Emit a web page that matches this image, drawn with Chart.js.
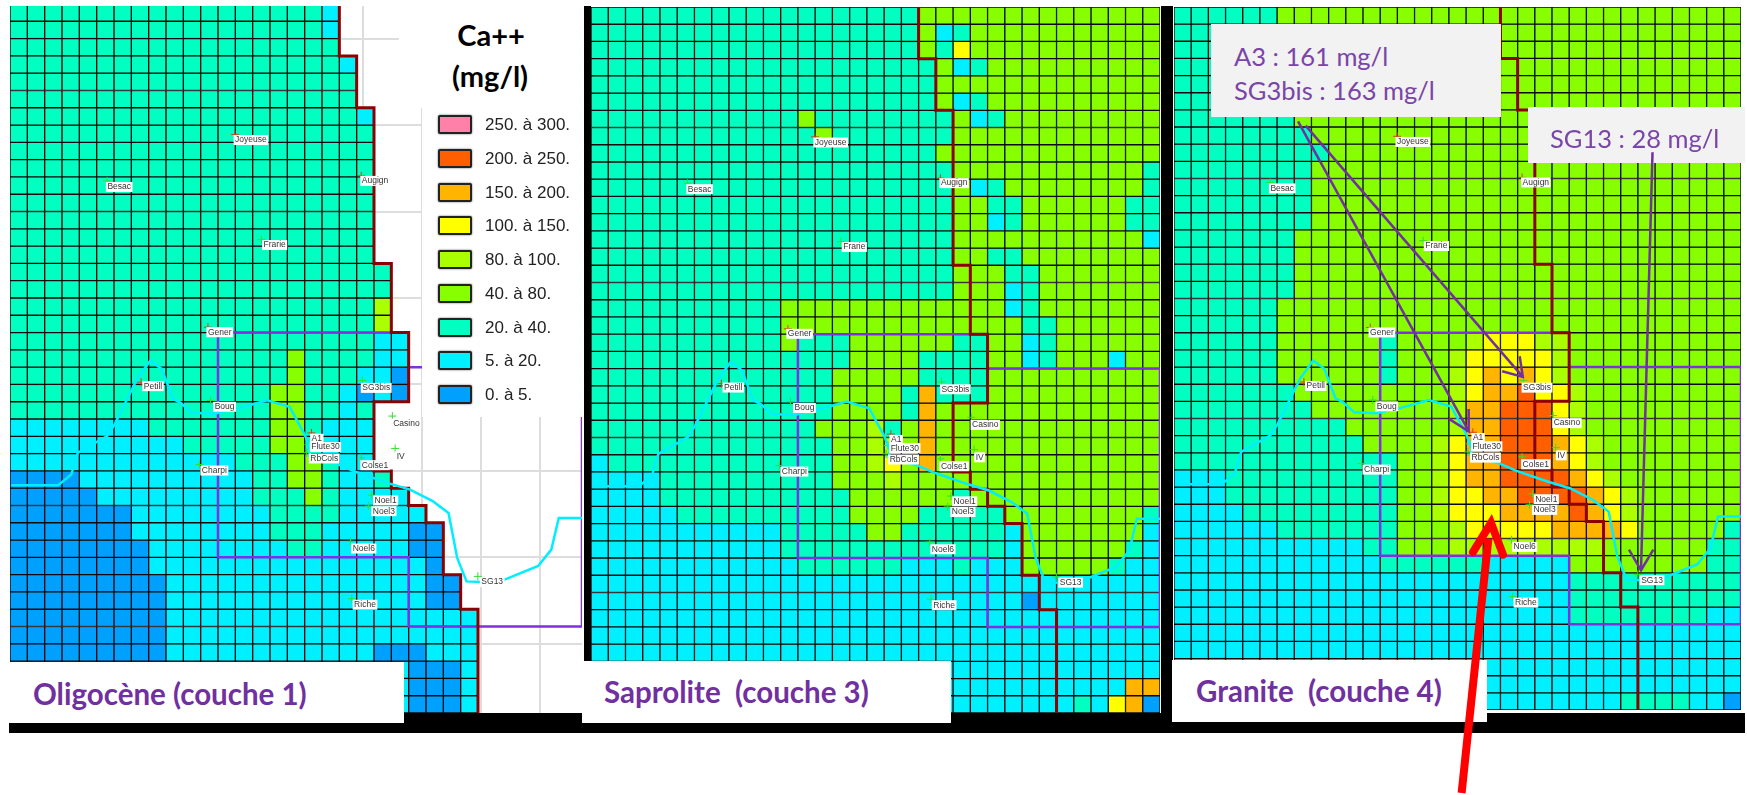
<!DOCTYPE html>
<html lang="fr">
<head>
<meta charset="utf-8">
<title>Ca++ (mg/l)</title>
<script src="https://cdn.jsdelivr.net/npm/chart.js@4/dist/chart.umd.js"></script>
<style>
  html, body { margin: 0; background: #fff; }
  #page { position: relative; width: 1747px; height: 795px; overflow: hidden; filter: blur(0.6px); }
  #page > * { position: absolute; }
  canvas { display: block; }
  .black { background: #000; }
  .white { background: #fff; }
  .caption { font: bold 29.5px Lato, sans-serif; color: #7030a0; white-space: pre; line-height: 1; }
  .note { background: #f2f2f2; }
  .noteText { font: 25.5px Lato, sans-serif; color: #7a45a8; white-space: pre; line-height: 1; }
  .title { font: bold 29px Lato, sans-serif; color: #000; white-space: pre; line-height: 1; transform: translateX(-50%); }
  .swatch { width: 30px; height: 15px; border: 2.5px solid #222; border-radius: 2px; box-shadow: 0 0 2px #555; }
  .legendText { font: 17px "Liberation Sans", sans-serif; color: #222; white-space: pre; line-height: 1; }
</style>
</head>
<body>
<div id="page">
  <canvas id="layer1" width="572" height="709" style="left:10px;top:4px"></canvas>
  <canvas id="layer3" width="569" height="706" style="left:591px;top:7px"></canvas>
  <canvas id="layer4" width="567" height="703" style="left:1174px;top:7px"></canvas>

  <div class="white" style="left:0;top:0;width:1747px;height:6px"></div>
  <div class="white" style="left:1741px;top:0;width:6px;height:713px"></div>
  <div class="black" style="left:9px;top:713px;width:1736px;height:20px"></div>
  <div class="black" style="left:584px;top:6px;width:7px;height:707px"></div>
  <div class="black" style="left:1161px;top:6px;width:12px;height:707px"></div>

  <div class="white" style="left:399px;top:0;width:183px;height:108px"></div>
  <div class="white" style="left:422px;top:0;width:160px;height:417px"></div>
  <div class="title" style="left:491px;top:20px">Ca++</div>
  <div class="title" style="left:490px;top:61px">(mg/l)</div>

  <div class="white" style="left:9px;top:662px;width:395px;height:61px"></div>
  <div class="white" style="left:582px;top:661px;width:369px;height:62px"></div>
  <div class="white" style="left:1172px;top:660px;width:315px;height:62px"></div>
  <div class="caption" style="left:33px;top:679px">Oligocène (couche 1)</div>
  <div class="caption" style="left:604px;top:677px">Saprolite  (couche 3)</div>
  <div class="caption" style="left:1196px;top:676px">Granite  (couche 4)</div>

  <div class="note" style="left:1211px;top:24px;width:290px;height:93px"></div>
  <div class="noteText" style="left:1234px;top:44px">A3 : 161 mg/l</div>
  <div class="noteText" style="left:1234px;top:78px">SG3bis : 163 mg/l</div>
  <div class="note" style="left:1528px;top:107px;width:217px;height:56px"></div>
  <div class="noteText" style="left:1550px;top:126px">SG13 : 28 mg/l</div>

  <canvas id="arrows" width="1747" height="795" style="left:0;top:0"></canvas>
</div>

<script>
// colour classes of the map, one letter per cell
const binColors = {
  a: '#00a0ff', b: '#00f0ff', c: '#00ffc0', d: '#88ff00', e: '#aaff00',
  f: '#ffff00', g: '#ffb400', h: '#ff5f00', i: '#ff80a8'
};
const legendLabels = ['250. à 300.', '200. à 250.', '150. à 200.', '100. à 150.', '80. à 100.', '40. à 80.', '20. à 40.', '5. à 20.', '0. à 5.'];
const legendKeys = ['i', 'h', 'g', 'f', 'e', 'd', 'c', 'b', 'a'];

const COLUMN_COUNT = 33;
const ROW_COUNT = 41;

// Oligocene, cells stop at the edge of the layer
const layer1Rows = [
  'ccccc ccccc ccccc cccb',
  'ccccc ccccc ccccc cccb',
  'ccccc ccccc ccccc cccc',
  'ccccc ccccc ccccc ccccb',
  'ccccc ccccc ccccc ccccc',
  'ccccc ccccc ccccc ccccc',
  'ccccc ccccc ccccc ccccc b',
  'ccccc ccccc ccccc ccccc c',
  'ccccc ccccc ccccc ccccc c',
  'ccccc ccccc ccccc ccccc c',
  'ccccc ccccc ccccc ccccc c',
  'ccccc ccccc ccccc ccccc c',
  'ccccc ccccc ccccc ccccc c',
  'ccccc ccccc ccccc ccccc c',
  'ccccc ccccc ccccc ccccc c',
  'ccccc ccccc ccccc ccccc cc',
  'ccccc ccccc ccccc ccccc cc',
  'ccccc ccccc ccccc ccccc ce',
  'ccccc ccccc ccccc ccccc ce',
  'ccccc ccccc ccccc ccccc cbb',
  'ccccc ccccc ccccc cdccc cbb',
  'ccccc ccccc ccccc cdccc bba',
  'ccccc ccccc ccccc ddccb aba',
  'ccccc ccccc ccccc ddccb c',
  'bbbbb bbbcc ccccc ddcbb b',
  'bbbbb bbbbb ccccc ddcbb b',
  'bbbbb bbbbb bbbcc cddcb b',
  'aaaab bbbbb bbbbc cddcb bc',
  'aaaaa bbbbb bbbbc ccdcb bbb',
  'aaaaa aabbb bbbbb ccccb bbbb',
  'aaaaa aabbb bbbbb cccbb bbbaa',
  'aaaaa aaabb bbbbb bccbb bbbaa',
  'aaaaa aaabb bbbbb bbbbb bbbba',
  'aaaaa aaaab bbbbb bbbbb bbbba a',
  'aaaaa aaaab bbbbb bbbbb bbbba a',
  'aaaaa aaaab bbbbb bbbbb bbbbb bb',
  'aaaaa aaaab bbbbb bbbbb bbbbb bb',
  'aaaaa aaaab bbbbb bbbbb baaab bb',
  'aaaaa aaaab bbbbb bbbbb bbbaa ab',
  'aaaaa aaaab bbbbb bbbbb bbbaa ab',
  'aaaaa aaaab bbbbb bbbbb bbbaa ab'
];

// Saprolite
const layer3Rows = [
  'ccccc ccccc ccccc ccccd ddddd ddddd ddd',
  'ccccc ccccc ccccc ccccd bcddd ddddd ddd',
  'ccccc ccccc ccccc ccccd cfddd ddddd ddd',
  'ccccc ccccc ccccc ccccc dbcdd ddddd ddd',
  'ccccc ccccc ccccc ccccc ddddd ddddd ddd',
  'ccccc ccccc ccccc ccccc dbcdd ddddd ddd',
  'ccccc ccccc ccdcc ccccc cdbcd ddddd ddd',
  'ccccc ccccc cccdc ccccc cdddd ddddd ddd',
  'ccccc ccccc ccccc ccccc ddddd ddddd ddd',
  'ccccc ccccc ccccc ccccc cdddd ddddd ddc',
  'ccccc ccccc ccccc ccccc cdbcd ddddd ddc',
  'ccccc ccccc ccccc ccccc cddcc ddddd dcc',
  'ccccc ccccc ccccc ccccc cddbc ddddd dcc',
  'ccccc ccccc ccccc ccccc cdddd ddddd ddb',
  'ccccc ccccc ccccc ccccc cddcc ddddd ddd',
  'ccccc ccccc ccccc ccccc cdddc cdddd ddd',
  'ccccc ccccc ccccc ccccc cdddb cdddd ddd',
  'ccccc ccccc cdddd ddddd ddddb cdddd ddd',
  'ccccc ccccc cdddd ddddd ddddd ccddd ddd',
  'ccccc ccccc cdccc ddddd dccdd bcddd ddd',
  'ccccc ccccc ccccc ddddc cccdd bcddd bdd',
  'ccccc ccccc ccccd ddddc cccdd ddddd ddd',
  'ccccc ccccc ccccd dddcg cccdd ddddd ddd',
  'ccccc ccccc ccccd dddcg ddddd ddddd ddd',
  'ccccc ccccc cccdd decdg ddddd ddddd ddd',
  'ccccc ccccc ccccd deedg ddddd ddddd ddd',
  'bcccc ccccc ccccd defdg ddddd ddddd ddd',
  'bbbbc ccccc ccccd ddedd ddddd ddddd ddd',
  'bbbbc ccccc ccccc ddddd dcddd ddddd ddd',
  'bbbbb ccccc ccccc ddddc ccccd ddddd ddc',
  'bbbbb bbbbb bcccc cddcc ccccb ddddd ddb',
  'bbbbb bbbbb bcccc ccccc ccccb ddddd dcb',
  'bbbbb bbbbb bbccc cccbb bcbbb ddddd cbb',
  'bbbbb bbbbb bbbbb bbbbb bbbbb bbbbb bbb',
  'bbbbb bbbbb bbbbb bbbbb bbbbb abbbb bbb',
  'bbbbb bbbbb bbbbb bbbbb bbbbb bbbbb bbb',
  'bbbbb bbbbb bbbbb bbbbb bbbbb bbbbb bbb',
  'bbbbb bbbbb bbbbb bbbbb bbbbb bbbbb bbb',
  'bbbbb bbbbb bbbbb bbbbb bbbbb bbbbb bbb',
  'bbbbb bbbbb bbbbb bbbbb bbbbb bbbbb bgg',
  'bbbbb bbbbb bbbbb bbbbb bbbbb bbbcb fga'
];

// Granite
const layer4Rows = [
  'ccccc cdddd ddddd ddddd ddddd ddddd ddd',
  'ccccc cdddd ddddd ddddd ddddd ddddd ddd',
  'ccccc cdddd ddddd ddddd ddddd ddddd ddd',
  'ccccc cdddd ddddd ddddd ddddd ddddd ddd',
  'ccccc cdddd ddddd ddddd ddddd ddddd ddd',
  'ccccc cdddd ddddd ddddd ddddd ddddd ddd',
  'ccccc ccddd ddddd ddddd ddddd ddddd ddd',
  'ccccc cccdd ddddd ddddd ddddd ddddd ddd',
  'ccccc ccccd ddddd ddddd ddddd ddddd ddd',
  'ccccc cccdd ddddd ddddd ddddd ddddd ddd',
  'ccccc cccdd ddddd ddddd ddddd ddddd ddd',
  'ccccc cccdd ddddd ddddd ddddd ddddd ddd',
  'ccccc cccdd ddddd ddddd ddddd ddddd ddd',
  'ccccc ccddd ddddd ddddd ddddd ddddd ddd',
  'ccccc ccddd ddddd ddddd ddddd ddddd ddd',
  'ccccc ccddd ddddd ddddd ddddd ddddd ddd',
  'ccccc ccddd ddddd ddddd ddddd ddddd ddd',
  'ccccc cdddd ddddd ddddd ddddd ddddd ddd',
  'ccccc cdddd ddddd ddddd ddddd ddddd ddd',
  'ccccc cdddd ddcdd ddeff feedd ddddd ddd',
  'ccccc cdddd ddcdd defff ffedd ddddd ddd',
  'ccccc cdddd ddcdd defgf gfedd ddddd ddd',
  'ccccc ccddd ddddd defgg hffed ddddd ddd',
  'ccccc cccdd ddddd deggh hhfed ddddd ddd',
  'ccccc ccccc ddddd deggh hhfed ddddd ddd',
  'ccccc ccccc cdddd efggh hhgfe ddddd ddd',
  'ccccc ccccc cccdd efggh hhgfe ddddd ddd',
  'bbbcc ccccc cccdd efggh hhhgf edddd ddd',
  'bbbcc ccccc cccdd effgg hhhhg feddd ddd',
  'bbbbc ccccc cccdd efffg ggghg feddd ddd',
  'bbbbb bcccc cccdd defff ffggg gfddd ddc',
  'bbbbb bbbbb bccdd deeee eeeee ddddd dcc',
  'bbbbb bbbbb bbccc cccbb bbbdd ddddd dcc',
  'bbbbb bbbbb bbbbb bbbbb bbbcc ccccc ccc',
  'bbbbb bbbbb bbbbb bbbbb bbbcc ccccc ccc',
  'bbbbb bbbbb bbbbb bbbbb bbbcc ccccc cbb',
  'bbbbb bbbbb bbbbb bbbbb bbbbb bbbbb bbb',
  'bbbbb bbbbb bbbbb bbbbb bbbbb bbbbb bbb',
  'bbbbb bbbbb bbbbb bbbbb bbbbb bbbbb bbb',
  'bbbbb bbbbb bbbbb bbbbb bbbbb bbbbb bbb',
  'bbbbb bbbbb bbbbb bbbbb bbbbb bcccc bba'
];

// lines, in column / row units of the grid
const boundaryLine = [[19,0],[19,3],[20,3],[20,6],[21,6],[21,15],[22,15],[22,19],[23,19],[23,23],[21,23],[21,27],[22,27],[22,28],[23,28],[23,29],[24,29],[24,30],[25,30],[25,33],[26,33],[26,35],[27,35],[27,41]];
const zoneLine = [[23,19],[12,19],[12,32],[23,32],[23,36],[33,36],[33,21],[23,21]];
const riverLine = [[0.07,27.83],[2.78,27.83],[3.54,27.2],[3.91,25.95],[5.6,24.99],[6.04,24.31],[6.8,22.77],[7.34,21.67],[8.1,20.62],[8.75,21.1],[9.4,22.83],[9.84,23.06],[10.49,23.64],[11.79,23.7],[13.31,23.35],[14.83,22.92],[16.13,23.3],[17,24.9],[17.33,25.76],[17.26,26.15],[18.96,26.63],[19.93,27.05],[21.78,27.69],[23.08,28.08],[24.39,28.75],[25.3,29.43],[25.8,32.03],[26.34,33.39],[27.2,33.43],[28.5,33.3],[30.47,32.5],[31.23,31.55],[31.66,29.72],[33,29.72]];

const stationNames = ['Joyeuse','Besac','Augign','Frarie','Gener','Petill','SG3bis','Boug','Casino','A1','Flute30','RbCols','IV','Colse1','Charpi','Noel1','Noel3','Noel6','SG13','Riche'];
const labelCols = [13.9,6.3,21.06,15.27,12.1,8.25,21.13,12.38,22.87,17.7,18.2,18.13,22.54,21.06,11.79,21.67,21.57,20.41,27.82,20.48];
const labelRows = [7.87,10.58,10.23,13.94,18.98,22.1,22.2,23.29,24.27,25.14,25.62,26.28,26.15,26.67,26.98,28.71,29.33,31.49,33.43,34.74];
const markCols = [12.99,5.6,20.26,14.5,11.42,7.56,20.33,11.57,22.06,17.39,17.22,17.11,22.22,20.26,10.92,20.87,20.69,19.65,26.99,19.72];
const markRows = [7.54,10.23,9.94,13.63,18.69,21.87,21.77,22.92,23.83,24.8,25.47,25.95,25.7,26.24,26.63,28.4,29.03,31.07,33.1,34.39];
const markKinds = ['r','g','r','g','r','r','g','g','g','r','g','g','g','g','g','g','g','g','g','g'];

// grey background grid of the first map
const backgroundCols = [20.37,23.77,27.2,30.6];
const backgroundRows = [2,7,12,17,22,27,32,37];

// arrows of the third map
const arrowToSg3bis = [[7.66,6.92],[20.3,21.57]];
const arrowToSg3bisHead = [[20.12,20.37],[20.3,21.57],[19.1,21.24]];
const arrowToA1 = [[7.22,6.67],[17.15,24.74]];
const arrowToA1Head = [[17.15,23.44],[17.15,24.74],[16,24.02]];
const arrowToSg13 = [[27.85,8.47],[27.18,32.85]];
const arrowToSg13Head = [[26.48,31.65],[27.18,32.85],[27.9,31.65]];
const redArrow = [[16.74,45.84],[18.3,31]];
const redArrowHead = [[17.4,31.79],[18.45,30.09],[19.15,31.94]];

const BLACK = '#0a0a0a';
const columns = Array.from({ length: COLUMN_COUNT }, (_, i) => i);

function pts(line) { return line.map(p => ({ x: p[0], y: p[1] })); }

function lineSet(line, color, width, extra) {
  return Object.assign({
    type: 'scatter', data: pts(line), yAxisID: 'yl',
    showLine: true, pointRadius: 0, borderColor: color, borderWidth: width,
    fill: false, tension: 0, order: 1
  }, extra || {});
}

function cellSets(rows) {
  return rows.map(row => {
    const cells = row.replace(/ /g, '');
    return {
      data: columns.map(i => ({ x: i + 0.5, y: 1 })),
      backgroundColor: columns.map(i => binColors[cells[i]] || 'rgba(0,0,0,0)'),
      borderColor: columns.map(i => cells[i] ? BLACK : 'rgba(0,0,0,0)'),
      borderWidth: 1,
      borderSkipped: false,
      barPercentage: 1,
      categoryPercentage: 1,
      stack: 'cells',
      order: 5
    };
  });
}

const stationLabels = {
  id: 'stationLabels',
  afterDatasetsDraw(chart) {
    const ctx = chart.ctx, sx = chart.scales.x, sy = chart.scales.yl;
    ctx.save();
    ctx.font = '8.5px "Liberation Sans", sans-serif';
    ctx.textAlign = 'center';
    ctx.textBaseline = 'middle';
    stationNames.forEach((name, i) => {
      const x = sx.getPixelForValue(labelCols[i]), y = sy.getPixelForValue(labelRows[i]);
      const w = ctx.measureText(name).width + 3;
      ctx.fillStyle = '#fff';
      ctx.fillRect(x - w / 2, y - 5, w, 10);
      ctx.fillStyle = '#333';
      ctx.fillText(name, x, y);
    });
    ctx.restore();
  }
};

function mapChart(id, rows, backgroundGrid) {
  const axisGrid = (values, scale) => { scale.ticks = values.map(v => ({ value: v })); };
  new Chart(document.getElementById(id), {
    type: 'bar',
    data: {
      datasets: [
        ...cellSets(rows),
        lineSet(zoneLine, '#8030e0', 2.5, { order: 2 }),
        lineSet(boundaryLine, '#8b0000', 3, { order: 1 }),
        lineSet(riverLine, '#00eeff', 2.5, { order: 0 }),
        {
          type: 'scatter', yAxisID: 'yl', order: 0,
          data: markCols.map((c, i) => ({ x: c, y: markRows[i] })),
          pointStyle: 'cross', pointRadius: 4, pointBorderWidth: 1,
          pointBorderColor: markKinds.map(k => k === 'r' ? '#d84010' : '#30e030')
        }
      ]
    },
    options: {
      responsive: false, animation: false, events: [],
      layout: { padding: 0, autoPadding: false },
      plugins: { legend: { display: false }, tooltip: { enabled: false } },
      scales: {
        x: {
          type: 'linear', stacked: true, offset: false, min: 0, max: COLUMN_COUNT, display: backgroundGrid,
          ticks: { display: false }, border: { display: false },
          grid: { offset: false, color: '#dddddd', lineWidth: 2, drawTicks: false },
          afterBuildTicks: s => axisGrid(backgroundCols, s)
        },
        y: { stacked: true, display: false, reverse: true, min: 0, max: ROW_COUNT },
        yl: {
          type: 'linear', position: 'left', min: 0, max: ROW_COUNT, reverse: true, display: backgroundGrid,
          ticks: { display: false }, border: { display: false },
          grid: { color: '#dddddd', lineWidth: 2, drawTicks: false },
          afterBuildTicks: s => axisGrid(backgroundRows, s)
        }
      }
    },
    plugins: [stationLabels]
  });
}

mapChart('layer1', layer1Rows, true);
mapChart('layer3', layer3Rows, false);
mapChart('layer4', layer4Rows, false);

// arrows go over the boxes and out of the map, so they get their own transparent chart on top
const PURPLE = '#7030a0';
new Chart(document.getElementById('arrows'), {
  type: 'scatter',
  data: {
    datasets: [
      lineSet(arrowToSg3bis, PURPLE, 2.5, { clip: false }),
      lineSet(arrowToSg3bisHead, PURPLE, 2.5, { clip: false }),
      lineSet(arrowToA1, PURPLE, 2.5, { clip: false }),
      lineSet(arrowToA1Head, PURPLE, 2.5, { clip: false }),
      lineSet(arrowToSg13, PURPLE, 2.5, { clip: false }),
      lineSet(arrowToSg13Head, PURPLE, 2.5, { clip: false }),
      lineSet(redArrow, '#ff0000', 8, { clip: false }),
      lineSet(redArrowHead, '#ff0000', 8, { clip: false, borderJoinStyle: 'miter', borderCapStyle: 'round' })
    ]
  },
  options: {
    responsive: false, animation: false, events: [],
    layout: { padding: { left: 1174, right: 6, top: 7, bottom: 85 }, autoPadding: false },
    plugins: { legend: { display: false }, tooltip: { enabled: false } },
    scales: {
      x: { type: 'linear', min: 0, max: COLUMN_COUNT, display: false },
      yl: { type: 'linear', position: 'left', min: 0, max: ROW_COUNT, reverse: true, display: false }
    }
  }
});

// legend
const page = document.getElementById('page');
legendLabels.forEach((label, i) => {
  const swatch = document.createElement('div');
  swatch.className = 'swatch';
  swatch.style.cssText = `left:438px;top:${115 + i * 33.75}px;background:${binColors[legendKeys[i]]}`;
  page.appendChild(swatch);
  const text = document.createElement('div');
  text.className = 'legendText';
  text.textContent = label;
  text.style.cssText = `left:485px;top:${116 + i * 33.75}px`;
  page.appendChild(text);
});
</script>
</body>
</html>
